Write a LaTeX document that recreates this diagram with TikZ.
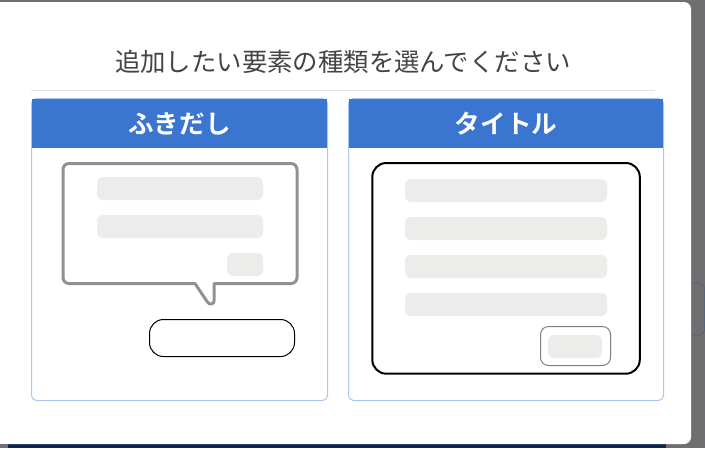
\documentclass[tikz,border=0pt]{standalone}
\usepackage{fontspec}
\newfontfamily\jp{Noto Sans CJK JP}
\newfontfamily\jpb{Noto Sans CJK JP Bold}
\definecolor{backdrop}{HTML}{6F6F71}
\definecolor{navy}{HTML}{10254D}
\definecolor{edgeblue}{HTML}{56667F}
\definecolor{panelline}{HTML}{A6C8F2}
\definecolor{headblue}{HTML}{3A76CF}
\definecolor{barfill}{HTML}{ECECEB}
\definecolor{rulegray}{HTML}{E2E2E2}
\definecolor{titlegray}{HTML}{444444}
\definecolor{balloongray}{HTML}{919191}
\tikzset{
  x=1pt,y=-1pt,
  box/.style={anchor=north west,inner sep=0pt,outer sep=0pt},
  panel/.style={box,draw=panelline,line width=1pt,rounded corners=5pt,fill=white,minimum width=#1,minimum height=302pt},
  head/.style={box,fill=headblue,text=white,minimum width=#1,minimum height=49pt,font=\jpb\fontsize{25.6}{25.6}\selectfont},
  bar/.style={box,fill=barfill,rounded corners=6pt},
}
\begin{document}
\begin{tikzpicture}
\useasboundingbox (0,0) rectangle (705,448);
\fill[backdrop] (0,0) rectangle (705,448);
\node[box,draw=edgeblue,line width=1pt,rounded corners=5pt,minimum width=30pt,minimum height=52pt] (behind) at (674.5,283) {};
\fill[navy] (8,440) rectangle (666,448);
\node[box,fill=white,rounded corners=7pt,minimum width=691pt,minimum height=442pt] (dialog) at (0,2) {};
\fill[white] (0,2) rectangle (10,444);
\node[inner sep=0pt,font=\jp\fontsize{25.4}{25.4}\selectfont,text=titlegray] (title) at (343,62) {追加したい要素の種類を選んでください};
\draw[rulegray,line width=1pt] (31,90.5) -- (655,90.5);

% left card
\node[panel=296pt] (cardA) at (31.5,98.5) {};
\node[head=295pt] (headA) at (32,99) {\raisebox{1pt}{ふきだし}};
\draw[balloongray,line width=3pt,fill=white,line join=round,rounded corners=6pt]
  (63,175) -- (63,163.5) -- (297,163.5) -- (297,283.5) [sharp corners] -- (214.2,283.5)
  -- (214.2,300.5) .. controls (214.2,304.6) and (209.4,305.2) .. (207.4,302)
  -- (195,283.5) [rounded corners=6pt] -- (63,283.5) -- cycle;
\node[bar,minimum width=166pt,minimum height=23pt] (a1) at (97,177) {};
\node[bar,minimum width=166pt,minimum height=23pt] (a2) at (97,215) {};
\node[bar,minimum width=36pt,minimum height=23pt] (a3) at (227,253) {};
\node[box,draw=black,line width=1pt,rounded corners=14pt,fill=white,minimum width=145pt,minimum height=37pt] (pill) at (149.5,319.5) {};

% right card
\node[panel=315pt] (cardB) at (348.5,98.5) {};
\node[head=314pt] (headB) at (349,99) {\raisebox{1pt}{タイトル}};
\node[box,draw=black,line width=2pt,rounded corners=14pt,fill=white,minimum width=267.5pt,minimum height=210.7pt] (frameB) at (372.3,163) {};
\node[bar,minimum width=202pt,minimum height=23pt] (b1) at (405,179) {};
\node[bar,minimum width=202pt,minimum height=23pt] (b2) at (405,217) {};
\node[bar,minimum width=202pt,minimum height=23pt] (b3) at (405,255) {};
\node[bar,minimum width=202pt,minimum height=23pt] (b4) at (405,293) {};
\node[box,draw=black!50,line width=1pt,rounded corners=8pt,minimum width=70pt,minimum height=39pt] (btn) at (540.5,326.5) {};
\node[bar,minimum width=54pt,minimum height=23pt] (b5) at (548,335) {};
\end{tikzpicture}
\end{document}
